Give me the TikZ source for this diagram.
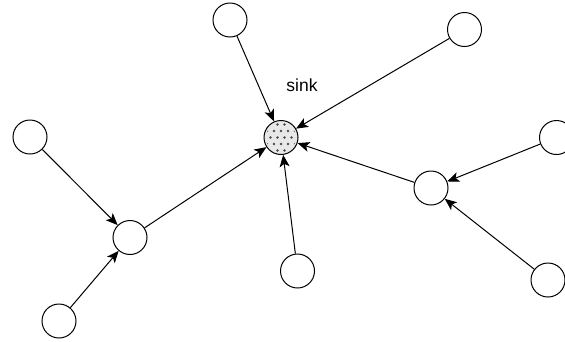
\documentclass[tikz,border=0pt]{standalone}
\usepackage{fontspec}
\setmainfont{Liberation Sans}
\usetikzlibrary{arrows.meta,calc}
\begin{document}
\begin{tikzpicture}[x=1pt,y=-1pt,
  vnode/.style={circle,draw=black,line width=1pt,fill=white,minimum size=34pt,inner sep=0pt},
  sinknode/.style={circle,draw=black,line width=1pt,fill=gray!18,minimum size=34pt,inner sep=0pt},
  link/.style={line width=1pt,-{Stealth[length=12pt,width=10pt,inset=3pt]}}]
\useasboundingbox (0,0) rectangle (565,341);
\node[vnode] (top) at (230,20) {};
\node[vnode] (tr) at (464.5,29.5) {};
\node[vnode] (r) at (556.5,137.5) {};
\node[vnode] (l) at (30,137) {};
\node[sinknode] (sink) at (281,137.5) {};
\node[vnode] (mr) at (431,188) {};
\node[vnode] (lm) at (130,237.5) {};
\node[vnode] (bc) at (297.5,271) {};
\node[vnode] (br) at (548,280) {};
\node[vnode] (bl) at (59,321) {};
\node[font=\fontsize{17.5}{20}\selectfont] (lbl) at (302,85) {sink};
\begin{scope}
\clip (sink.center) circle (15pt);
\foreach \i in {-3,...,3}{
  \foreach \j in {-3,...,3}{
    \pgfmathsetmacro{\xo}{mod(\i+3,2)*3.5}
    \fill[black!70] ($(sink.center)+(\j*7+\xo,\i*6.5)$) circle (1.3pt);
  }
}
\end{scope}
\draw[link] (top) -- (sink);
\draw[link] (tr) -- (sink);
\draw[link] (lm) -- (sink);
\draw[link] (bc) -- (sink);
\draw[link] (mr) -- (sink);
\draw[link] (l) -- (lm);
\draw[link] (bl) -- (lm);
\draw[link] (r) -- (mr);
\draw[link] (br) -- (mr);
\end{tikzpicture}
\end{document}
